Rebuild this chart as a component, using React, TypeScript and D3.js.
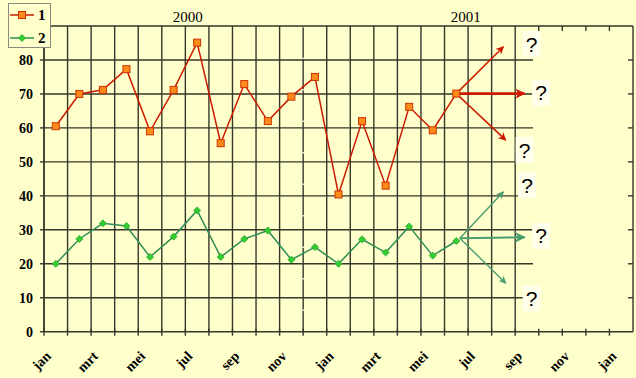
import React from "react";
import * as d3 from "d3";

const monthNames = ["jan","feb","mrt","apr","mei","jun","jul","aug","sep","okt","nov","dec","jan","feb","mrt","apr","mei","jun","jul","aug","sep","okt","nov","dec","jan"];
const series1 = [60.5, 70, 71.2, 77.3, 59, 71.2, 85.1, 55.5, 72.9, 62, 69.2, 75, 40.4, 62, 43, 66.2, 59.3, 70.1];
const series2 = [20, 27.3, 31.9, 31.1, 22, 28, 35.7, 22, 27.3, 29.8, 21.2, 24.9, 20, 27.2, 23.3, 31, 22.4, 26.7];
const yTicks = [0, 10, 20, 30, 40, 50, 60, 70, 80];
const years = [{ label: "2000", idx: 5.6 }, { label: "2001", idx: 17.4 }];
const redArrows = [{ x: 19.0, y: 83.9 }, { x: 19.9, y: 70.1 }, { x: 19.1, y: 56.4 }];
const greenArrows = [{ x: 19.0, y: 41.2 }, { x: 19.9, y: 27.8 }, { x: 19.1, y: 14.3 }];
const questions = [
  { x: 20.2, y: 84.7 }, { x: 20.6, y: 70.3 }, { x: 19.9, y: 53.5 },
  { x: 20.0, y: 43.2 }, { x: 20.6, y: 28.2 }, { x: 20.2, y: 9.9 },
];

const W = 636, H = 378;
const L = 44, R = 633, T = 26, B = 331.7;
const BG = "#FFFFCC";
const GRID = "#36362a";
const RED = "#CC1A00";
const GREEN = "#2F8F55";

export default function App() {
  const band = d3.scaleBand<number>().domain(d3.range(25)).range([L, R]).paddingInner(0).paddingOuter(0);
  const step = band.step();
  const xc = d3.scaleLinear().domain([-0.5, 24.5]).range([L, R]);
  const y = d3.scaleLinear().domain([0, 90]).range([B, T]);
  const line = d3.line<number>().x((_, i) => xc(i)).y((d) => y(d));
  const gridRight = 533;
  const boundaries = d3.range(26).map((i) => L + i * step);
  const r1Last = series1.length - 1;
  const g1Last = series2.length - 1;

  return (
    <svg width={W} height={H} style={{ position: "absolute", left: 0, top: 0, background: BG }}>
      <defs>
        <marker id="ahR" viewBox="0 0 10 10" refX="9" refY="5" markerWidth="5.5" markerHeight="5.5" orient="auto" markerUnits="strokeWidth">
          <path d="M0,0 L10,5 L0,10 L3,5 z" fill={RED} />
        </marker>
        <marker id="ahRb" viewBox="0 0 10 10" refX="9" refY="5" markerWidth="4" markerHeight="4" orient="auto" markerUnits="strokeWidth">
          <path d="M0,0 L10,5 L0,10 L3,5 z" fill={RED} />
        </marker>
        <marker id="ahG" viewBox="0 0 10 10" refX="9" refY="5" markerWidth="5.5" markerHeight="5.5" orient="auto" markerUnits="strokeWidth">
          <path d="M0,0 L10,5 L0,10 L3,5 z" fill="#4a9e6e" />
        </marker>
      </defs>
      <rect x={0} y={0} width={W} height={H} fill={BG} />
      {yTicks.filter((t) => t > 0).map((t) => (
        <line key={"h" + t} x1={L} x2={gridRight} y1={y(t)} y2={y(t)} stroke={GRID} strokeWidth={1.4} />
      ))}
      {boundaries.filter((b, i) => i <= 20).map((b, i) => (
        <line key={"v" + i} x1={b} x2={b} y1={T} y2={B} stroke={GRID} strokeWidth={1.4} />
      ))}
      <line x1={L + 11 * step} x2={L + 11 * step} y1={T} y2={B} stroke="#ffffff" strokeWidth={1.4} strokeDasharray="1.5,30" />
      <line x1={L} x2={R} y1={T} y2={T} stroke={GRID} strokeWidth={1.4} />
      <line x1={R} x2={R} y1={T} y2={B} stroke={GRID} strokeWidth={1.4} />
      <line x1={L} x2={L} y1={T} y2={B} stroke={GRID} strokeWidth={1.4} />
      <line x1={L} x2={R} y1={B} y2={B} stroke={GRID} strokeWidth={1.4} />
      {yTicks.filter((t) => t > 0).map((t) => (
        <line key={"rt" + t} x1={R - 5} x2={R} y1={y(t)} y2={y(t)} stroke={GRID} strokeWidth={1.4} />
      ))}
      {boundaries.filter((b, i) => i > 20 && i < 25).map((b, i) => (
        <line key={"tt" + i} x1={b} x2={b} y1={T} y2={T + 5} stroke={GRID} strokeWidth={1.4} />
      ))}
      {boundaries.filter((b, i) => i < 25).map((b, i) => (
        <line key={"bt" + i} x1={b} x2={b} y1={B - 3} y2={B + 4} stroke={GRID} strokeWidth={1.4} />
      ))}
      {yTicks.map((t) => (
        <g key={"yl" + t}>
          <line x1={L - 4} x2={L} y1={y(t)} y2={y(t)} stroke={GRID} strokeWidth={1.4} />
          <text x={33} y={y(t)} dy="0.35em" textAnchor="end" fontFamily="Liberation Serif, serif" fontWeight="bold" fontSize={14} fill="#000">{t}</text>
        </g>
      ))}
      {monthNames.map((m, i) => i % 2 === 0 ? (
        <text key={"xl" + i} transform={`translate(${xc(i) - 4},${357}) rotate(-45)`} textAnchor="end" fontFamily="Liberation Serif, serif" fontWeight="bold" fontSize={14} fill="#000">{m}</text>
      ) : null)}
      {years.map((yr) => (
        <text key={yr.label} x={xc(yr.idx)} y={22} textAnchor="middle" fontFamily="Liberation Serif, serif" fontSize={15} fill="#000">{yr.label}</text>
      ))}
      {redArrows.map((a, i) => (
        <line key={"ra" + i} x1={xc(r1Last)} y1={y(series1[r1Last])} x2={xc(a.x)} y2={y(a.y)} stroke={RED} strokeWidth={i === 1 ? 2.6 : 1.5} markerEnd={i === 1 ? "url(#ahRb)" : "url(#ahR)"} />
      ))}
      {greenArrows.map((a, i) => (
        <line key={"ga" + i} x1={xc(g1Last + 0.15)} y1={y(series2[g1Last] + 0.8)} x2={xc(a.x)} y2={y(a.y)} stroke="#4a9e6e" strokeWidth={i === 1 ? 2 : 1.4} markerEnd="url(#ahG)" />
      ))}
      <path d={line(series1) || ""} fill="none" stroke={RED} strokeWidth={1.5} />
      <path d={line(series2) || ""} fill="none" stroke={GREEN} strokeWidth={1.5} />
      {series1.map((v, i) => (
        <rect key={"m1" + i} x={xc(i) - 3.5} y={y(v) - 3.5} width={7} height={7} fill="#FF8C1A" stroke="#CC3300" strokeWidth={1} />
      ))}
      {series2.map((v, i) => (
        <path key={"m2" + i} d={`M${xc(i)},${y(v) - 3.5} L${xc(i) + 3.5},${y(v)} L${xc(i)},${y(v) + 3.5} L${xc(i) - 3.5},${y(v)} Z`} fill="#33CC33" stroke="#22AA22" strokeWidth={0.8} />
      ))}
      {questions.map((q, i) => (
        <g key={"q" + i}>
          <rect x={xc(q.x) - 9} y={y(q.y) - 13} width={18} height={26} fill="#FFFFEA" />
          <text x={xc(q.x)} y={y(q.y)} dy="0.36em" textAnchor="middle" fontFamily="Liberation Sans, Arial, sans-serif" fontSize={21} fill="#000">?</text>
        </g>
      ))}
      <rect x={8.5} y={3.5} width={42} height={44} fill={BG} stroke="#8a8a80" strokeWidth={1} />
      <line x1={10} x2={34} y1={15} y2={15} stroke={RED} strokeWidth={1.5} />
      <rect x={18.5} y={11.5} width={7} height={7} fill="#FF8C1A" stroke="#CC3300" strokeWidth={1} />
      <text x={38} y={15} dy="0.35em" fontFamily="Liberation Serif, serif" fontWeight="bold" fontSize={15} fill="#000">1</text>
      <line x1={10} x2={34} y1={38} y2={38} stroke={GREEN} strokeWidth={1.5} />
      <path d="M22,34.5 L25.5,38 L22,41.5 L18.5,38 Z" fill="#33CC33" stroke="#22AA22" strokeWidth={0.8} />
      <text x={38} y={38} dy="0.35em" fontFamily="Liberation Serif, serif" fontWeight="bold" fontSize={15} fill="#000">2</text>
    </svg>
  );
}
